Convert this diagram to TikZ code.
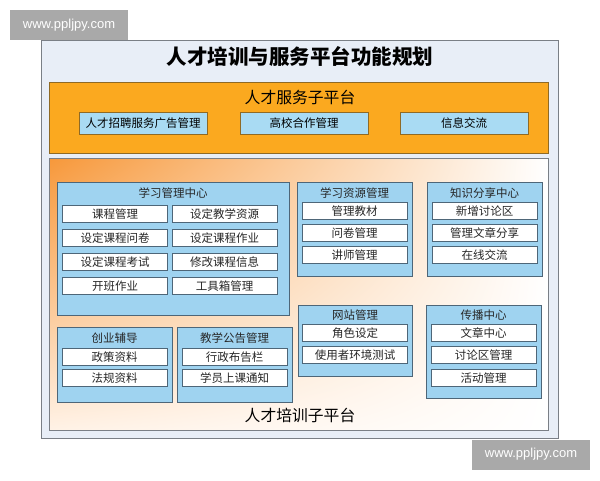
\documentclass[tikz,border=0pt]{standalone}
\usepackage{fontspec}
\setmainfont{Noto Sans CJK SC}
\newfontfamily\wmfont{Liberation Sans}
\usetikzlibrary{shadings}

\definecolor{frameBG}{HTML}{E8EEF7}
\definecolor{frameLine}{HTML}{7A7F86}
\definecolor{svcOrange}{HTML}{FBA91F}
\definecolor{svcLine}{HTML}{8F6A25}
\definecolor{svcItem}{HTML}{A9DBF3}
\definecolor{grpBlue}{HTML}{9FD3F0}
\definecolor{grpLine}{HTML}{4E6678}
\definecolor{trainOrange}{HTML}{F7983A}
\definecolor{trainPale}{HTML}{FFF2E6}
\definecolor{wmGray}{HTML}{A9A9A9}

\begin{document}
\begin{tikzpicture}[x=1pt,y=-1pt]

      \useasboundingbox[fill=white] (0,0) rectangle (600,480);

      % frame and platforms
      \node[draw=frameLine,fill=frameBG,line width=0.8pt,minimum width=517pt,minimum height=398pt] (frame) at (299.5,239) {};
      \node[font=\fontsize{20.5}{22}\selectfont\bfseries] (title) at (300,56) {人才培训与服务平台功能规划};

      \node[draw=svcLine,fill=svcOrange,line width=0.8pt,minimum width=499pt,minimum height=71pt] (service) at (298.5,117.5) {};
      \node[font=\fontsize{15.8}{17}\selectfont] (servicetitle) at (300,97) {人才服务子平台};

      \node[draw=frameLine,line width=0.8pt,minimum width=499pt,minimum height=272pt,
            upper left=trainOrange,upper right=white,lower left=trainPale,lower right=white] (training) at (298.5,294) {};
      \node[font=\fontsize{15.8}{17}\selectfont] (trainingtitle) at (300,415) {人才培训子平台};

      \begin{scope}[every node/.style={draw=svcLine,fill=svcItem,line width=0.8pt,minimum width=128pt,minimum height=22pt,inner sep=0pt,font=\fontsize{11.5}{12}\selectfont}]
        \node (recruit) at (143,123) {人才招聘服务广告管理};
        \node (college) at (304,123) {高校合作管理};
        \node (info)    at (464,123) {信息交流};
      \end{scope}

      % groups
      \begin{scope}[every node/.style={draw=grpLine,fill=grpBlue,line width=0.9pt,inner sep=0pt}]
        \node[minimum width=232pt,minimum height=133pt] (learn)   at (173,248.5) {};
        \node[minimum width=115pt,minimum height=94pt]  (res)     at (354.5,229) {};
        \node[minimum width=115pt,minimum height=94pt]  (share)   at (484.5,229) {};
        \node[minimum width=114pt,minimum height=71pt]  (site)    at (355,340.5) {};
        \node[minimum width=115pt,minimum height=93pt]  (spread)  at (483.5,351.5) {};
        \node[minimum width=115pt,minimum height=75pt]  (startup) at (114.5,364.5) {};
        \node[minimum width=115pt,minimum height=75pt]  (notice)  at (234.5,364.5) {};
      \end{scope}

      \begin{scope}[every node/.style={font=\fontsize{11.5}{12}\selectfont,text=black!85}]
        \node (learnT)   at (173,193)   {学习管理中心};
        \node (resT)     at (354.5,193) {学习资源管理};
        \node (shareT)   at (484.5,193) {知识分享中心};
        \node (siteT)    at (355,315)   {网站管理};
        \node (spreadT)  at (483.5,315) {传播中心};
        \node (startupT) at (114.5,338) {创业辅导};
        \node (noticeT)  at (234.5,338) {教学公告管理};
      \end{scope}

      % items
      \begin{scope}[every node/.style={draw=grpLine,fill=white,line width=0.8pt,minimum width=105pt,minimum height=16.5pt,inner sep=0pt,font=\fontsize{11.5}{12}\selectfont,text=black!85}]
        \node (l1) at (115,214)   {课程管理};
        \node (l2) at (224.5,214) {设定教学资源};
        \node (l3) at (115,238)   {设定课程问卷};
        \node (l4) at (224.5,238) {设定课程作业};
        \node (l5) at (115,262)   {设定课程考试};
        \node (l6) at (224.5,262) {修改课程信息};
        \node (l7) at (115,286)   {开班作业};
        \node (l8) at (224.5,286) {工具箱管理};

        \node (r1) at (354.5,211) {管理教材};
        \node (r2) at (354.5,233) {问卷管理};
        \node (r3) at (354.5,255) {讲师管理};

        \node (k1) at (484.5,211) {新增讨论区};
        \node (k2) at (484.5,233) {管理文章分享};
        \node (k3) at (484.5,255) {在线交流};

        \node (w1) at (355,333) {角色设定};
        \node (w2) at (355,355) {使用者环境测试};

        \node (c1) at (483.5,333) {文章中心};
        \node (c2) at (483.5,355) {讨论区管理};
        \node (c3) at (483.5,378) {活动管理};

        \node (s1) at (114.5,357) {政策资料};
        \node (s2) at (114.5,378) {法规资料};

        \node (n1) at (234.5,357) {行政布告栏};
        \node (n2) at (234.5,378) {学员上课通知};
      \end{scope}

      % watermarks
      \begin{scope}[every node/.style={fill=wmGray,text=white,minimum width=118pt,minimum height=30pt,inner sep=0pt,font=\wmfont\fontsize{13}{14}\selectfont}]
        \node (wmtop)    at (69,25)    {www.ppljpy.com};
        \node (wmbottom) at (531,454.5) {www.ppljpy.com};
      \end{scope}

    \end{tikzpicture}
\end{document}
